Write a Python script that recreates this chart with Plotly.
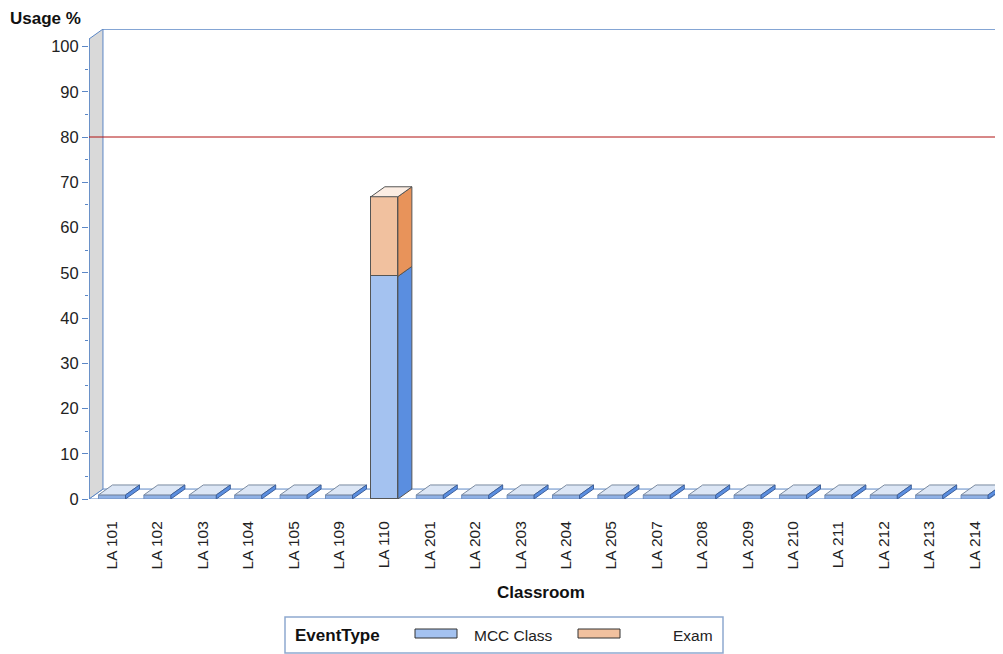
import plotly.graph_objects as go

# ---- data ----
classrooms = ["LA 101", "LA 102", "LA 103", "LA 104", "LA 105", "LA 109", "LA 110",
              "LA 201", "LA 202", "LA 203", "LA 204", "LA 205", "LA 207", "LA 208",
              "LA 209", "LA 210", "LA 211", "LA 212", "LA 213", "LA 214"]
mcc_class = [0, 0, 0, 0, 0, 0, 49.2, 0, 0, 0, 0, 0, 0, 0, 0, 0, 0, 0, 0, 0]
exam = [0, 0, 0, 0, 0, 0, 17.6, 0, 0, 0, 0, 0, 0, 0, 0, 0, 0, 0, 0, 0]
threshold = 80
y_ticks = list(range(0, 101, 10))

# ---- style / geometry ----
FONT = "Liberation Sans, Arial, sans-serif"
AXIS_BLUE = "#5B87C6"
EDGE = "#555555"
MCC_FRONT, MCC_SIDE = "#A4C2F0", "#5A8EE0"
EXAM_FRONT, EXAM_SIDE, EXAM_TOP = "#F1C19F", "#E8935A", "#FCEDE3"
SLAB_TOP = "#DCE6F5"

X0, X1 = -0.5066, 19.626
YTOP = 103.87
AX_TOP = 101.66
DX, DY = 0.308, 2.2
HW = 0.2975
SLAB = 0.9

fig = go.Figure()
x_idx = list(range(len(classrooms)))

fig.add_trace(go.Bar(x=x_idx, y=mcc_class, name="MCC Class", width=2 * HW,
                     marker=dict(color=MCC_FRONT, line=dict(color=EDGE, width=1)),
                     showlegend=False))
fig.add_trace(go.Bar(x=x_idx, y=exam, name="Exam", width=2 * HW,
                     marker=dict(color=EXAM_FRONT, line=dict(color=EDGE, width=1)),
                     showlegend=False))

shapes = []

def poly(pts, fill, line=EDGE, width=1, layer="above"):
    d = "M " + " L ".join(f"{x},{y}" for x, y in pts) + " Z"
    return dict(type="path", path=d, xref="x", yref="y", fillcolor=fill,
                line=dict(color=line, width=width), layer=layer)

# floor
shapes.append(poly([(X0, 0), (X0 + DX, DY), (X1, DY), (X1 - DX, 0)], "white",
                   line=AXIS_BLUE, layer="below"))
# back wall top line
shapes.append(dict(type="line", xref="x", yref="y", x0=X0 + DX, x1=X1, y0=YTOP, y1=YTOP,
                   line=dict(color=AXIS_BLUE, width=1.5), layer="below"))
# left wall
shapes.append(poly([(X0, 0), (X0, AX_TOP), (X0 + DX, AX_TOP + DY), (X0 + DX, DY)],
                   "#D9D9D9", line=AXIS_BLUE, layer="below"))

# 3D faces of bars
for i in x_idx:
    m, e = mcc_class[i], exam[i]
    xl, xr = i - HW, i + HW
    if m + e == 0:
        shapes.append(poly([(xl, 0), (xr, 0), (xr, SLAB), (xl, SLAB)], "#8FB1E6", line="#6F8FC0"))
        shapes.append(poly([(xl, SLAB), (xl + DX, SLAB + DY), (xr + DX, SLAB + DY), (xr, SLAB)],
                           SLAB_TOP, line="#7A8AA0"))
        shapes.append(poly([(xr, 0), (xr + DX, DY), (xr + DX, SLAB + DY), (xr, SLAB)],
                           MCC_SIDE, line="#3D5F9A"))
        continue
    segs = [(0, m, MCC_SIDE), (m, m + e, EXAM_SIDE)]
    for b, t, c in segs:
        if t > b:
            shapes.append(poly([(xr, b), (xr + DX, b + DY), (xr + DX, t + DY), (xr, t)], c))
    top = m + e
    shapes.append(poly([(xl, top), (xl + DX, top + DY), (xr + DX, top + DY), (xr, top)],
                       EXAM_TOP if e > 0 else SLAB_TOP))

# front y axis line
shapes.append(dict(type="line", xref="x", yref="y", x0=X0, x1=X0, y0=0, y1=AX_TOP,
                   line=dict(color=AXIS_BLUE, width=1.5)))
# reference line
shapes.append(dict(type="line", xref="x", yref="y", x0=X0, x1=19.49, y0=threshold, y1=threshold,
                   line=dict(color="#B01010", width=1)))

# legend (custom) - page pixel -> paper coords (plot area spans page x 89..1003, y 29..499)
def px_to_paper_x(p):
    return (p - 89) / 914

def py_to_paper_y(p):
    return (499 - p) / 470

shapes.append(dict(type="rect", xref="paper", yref="paper",
                   x0=px_to_paper_x(285), x1=px_to_paper_x(723),
                   y0=py_to_paper_y(653), y1=py_to_paper_y(617),
                   line=dict(color="#8EA9CF", width=1.5), fillcolor="white"))
shapes.append(dict(type="rect", xref="paper", yref="paper",
                   x0=px_to_paper_x(415), x1=px_to_paper_x(457),
                   y0=py_to_paper_y(638), y1=py_to_paper_y(629),
                   line=dict(color="#333", width=1), fillcolor=MCC_FRONT))
shapes.append(dict(type="rect", xref="paper", yref="paper",
                   x0=px_to_paper_x(578), x1=px_to_paper_x(620),
                   y0=py_to_paper_y(638), y1=py_to_paper_y(629),
                   line=dict(color="#333", width=1), fillcolor=EXAM_FRONT))

annotations = [
    dict(text="<b>Usage %</b>", xref="paper", yref="paper", x=px_to_paper_x(8), y=py_to_paper_y(18),
         xanchor="left", yanchor="middle", showarrow=False, font=dict(size=17, color="#111", family=FONT)),
    dict(text="<b>Classroom</b>", xref="paper", yref="paper", x=px_to_paper_x(541), y=py_to_paper_y(592),
         xanchor="center", yanchor="middle", showarrow=False, font=dict(size=17, color="#111", family=FONT)),
    dict(text="<b>EventType</b>", xref="paper", yref="paper", x=px_to_paper_x(293), y=py_to_paper_y(635),
         xanchor="left", yanchor="middle", showarrow=False, font=dict(size=17, color="#111", family=FONT)),
    dict(text="MCC Class", xref="paper", yref="paper", x=px_to_paper_x(472), y=py_to_paper_y(635),
         xanchor="left", yanchor="middle", showarrow=False, font=dict(size=15.5, color="#222", family=FONT)),
    dict(text="Exam", xref="paper", yref="paper", x=px_to_paper_x(715), y=py_to_paper_y(635),
         xanchor="right", yanchor="middle", showarrow=False, font=dict(size=15.5, color="#222", family=FONT)),
]

# the page body adds an 8px margin, so the figure is 8px smaller and margins compensate
fig.update_layout(
    width=995, height=646,
    margin=dict(l=81, r=0, t=21, b=155),
    paper_bgcolor="white", plot_bgcolor="white",
    barmode="stack", bargap=0,
    shapes=shapes, annotations=annotations,
    font=dict(family=FONT, size=15, color="#222"),
    xaxis=dict(range=[X0, X1], tickmode="array", tickvals=x_idx, ticktext=classrooms,
               tickangle=-90, showgrid=False, zeroline=False, showline=False,
               ticks="outside", ticklen=15, tickcolor="rgba(0,0,0,0)",
               tickfont=dict(size=15.5, color="#222", family=FONT)),
    yaxis=dict(range=[0, YTOP], tickmode="array", tickvals=y_ticks, showgrid=False,
               zeroline=False, showline=False, ticks="outside", ticklen=6, tickcolor=AXIS_BLUE,
               tickwidth=1, tickfont=dict(size=16.5, color="#222", family=FONT),
               minor=dict(tickmode="array", tickvals=list(range(5, 100, 10)), ticks="outside",
                          ticklen=3, tickcolor=AXIS_BLUE)),
)

fig.write_html("out.html")
